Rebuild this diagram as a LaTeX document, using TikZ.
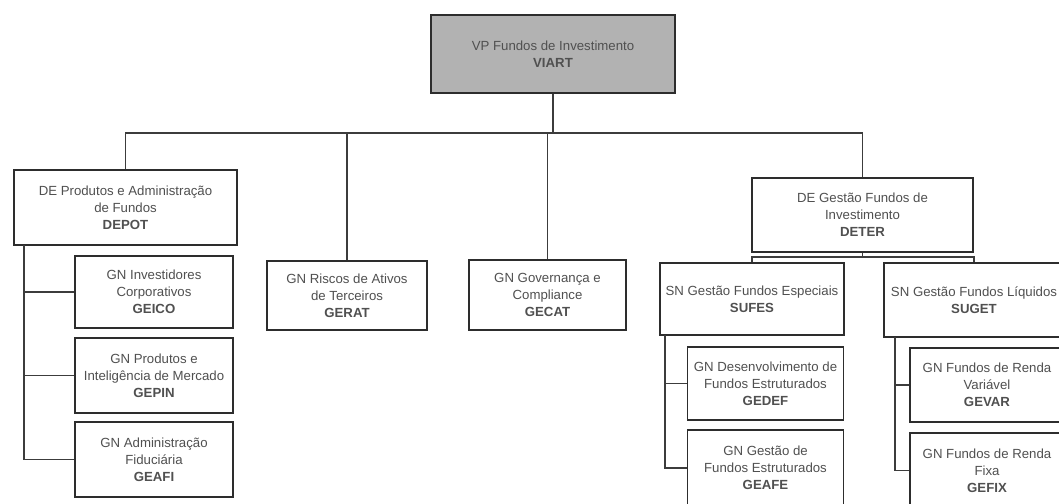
\documentclass[tikz,border=0pt]{standalone}
\usepackage{fontspec}
\setmainfont{Liberation Sans}
\definecolor{BoxLine}{RGB}{45,45,45}
\definecolor{LinkGray}{RGB}{60,60,60}
\definecolor{TopFill}{RGB}{178,178,178}
\definecolor{TextGray}{RGB}{80,80,80}
\usetikzlibrary{positioning, calc}
\newcommand{\sigla}[1]{\textbf{#1}}

\begin{document}
\begin{tikzpicture}[x=0.025cm, y=-0.025cm,
    unit/.style={draw=BoxLine, line width=0.9pt, fill=white, align=center,
      inner sep=1pt, text=TextGray, font=\fontsize{9.4}{12.2}\selectfont},
    size/.style 2 args={minimum width=#1cm, minimum height=#2cm},
    link/.style={draw=LinkGray, line width=1pt}]
  \clip (0,0) rectangle (1059,504);
  \fill[white] (0,0) rectangle (1059,504);

  \node[unit, size={6.1}{1.95}, fill=TopFill, line width=1.1pt] (VIART) at (553,54)
    {VP Fundos de Investimento\\\sigla{VIART}};

  \node[unit, size={5.575}{1.875}] (DEPOT) at (125.5,207.5)
    {DE Produtos e Administração\\de Fundos\\\sigla{DEPOT}};
  \node[unit, size={4.0}{1.725}] (GERAT) at (347,295.5)
    {GN Riscos de Ativos\\de Terceiros\\\sigla{GERAT}};
  \node[unit, size={3.925}{1.75}] (GECAT) at (547.5,295)
    {GN Governança e\\Compliance\\\sigla{GECAT}};
  \node[unit, size={5.525}{1.85}] (DETER) at (862.5,215)
    {DE Gestão Fundos de\\Investimento\\\sigla{DETER}};

  \node[unit, size={3.95}{1.8}] (GEICO) at (154,292)
    {GN Investidores\\Corporativos\\\sigla{GEICO}};
  \node[unit, size={3.95}{1.875}] (GEPIN) at (154,375.5)
    {GN Produtos e\\Inteligência de Mercado\\\sigla{GEPIN}};
  \node[unit, size={3.95}{1.875}] (GEAFI) at (154,459.5)
    {GN Administração\\Fiduciária\\\sigla{GEAFI}};

  \node[unit, size={4.6}{1.8}] (SUFES) at (752,299)
    {SN Gestão Fundos Especiais\\\sigla{SUFES}};
  \node[unit, size={4.5}{1.85}] (SUGET) at (974,300)
    {SN Gestão Fundos Líquidos\\\sigla{SUGET}};

  \node[unit, size={3.9}{1.825}] (GEDEF) at (765.5,383.5)
    {GN Desenvolvimento de\\Fundos Estruturados\\\sigla{GEDEF}};
  \node[unit, size={3.9}{1.9}] (GEAFE) at (765.5,468)
    {GN Gestão de\\Fundos Estruturados\\\sigla{GEAFE}};
  \node[unit, size={3.85}{1.85}] (GEVAR) at (987,385)
    {GN Fundos de Renda\\Variável\\\sigla{GEVAR}};
  \node[unit, size={3.85}{1.875}] (GEFIX) at (987,470.5)
    {GN Fundos de Renda\\Fixa\\\sigla{GEFIX}};

  \coordinate (topbus) at (553,133);
  \coordinate (deterbus) at (862.5,257);
  \coordinate (depotspine) at (24,245);
  \coordinate (sufesspine) at (665,335);
  \coordinate (sugetspine) at (895,337);

  \draw[link] (VIART.south) -- (topbus);
  \draw[link] (DEPOT.north) |- (topbus) -| (DETER.north);
  \draw[link] (GERAT.north) -- (GERAT.north |- topbus);
  \draw[link] (GECAT.north) -- (GECAT.north |- topbus);

  \draw[link] (depotspine) |- (GEAFI.west);
  \draw[link] (GEICO.west) -- (GEICO.west -| depotspine);
  \draw[link] (GEPIN.west) -- (GEPIN.west -| depotspine);

  \draw[link] (DETER.south) -- (deterbus);
  \draw[link] (SUFES.north) |- (deterbus) -| (SUGET.north);

  \draw[link] (sufesspine) |- (GEAFE.west);
  \draw[link] (GEDEF.west) -- (GEDEF.west -| sufesspine);
  \draw[link] (sugetspine) |- (GEFIX.west);
  \draw[link] (GEVAR.west) -- (GEVAR.west -| sugetspine);
\end{tikzpicture}
\end{document}
